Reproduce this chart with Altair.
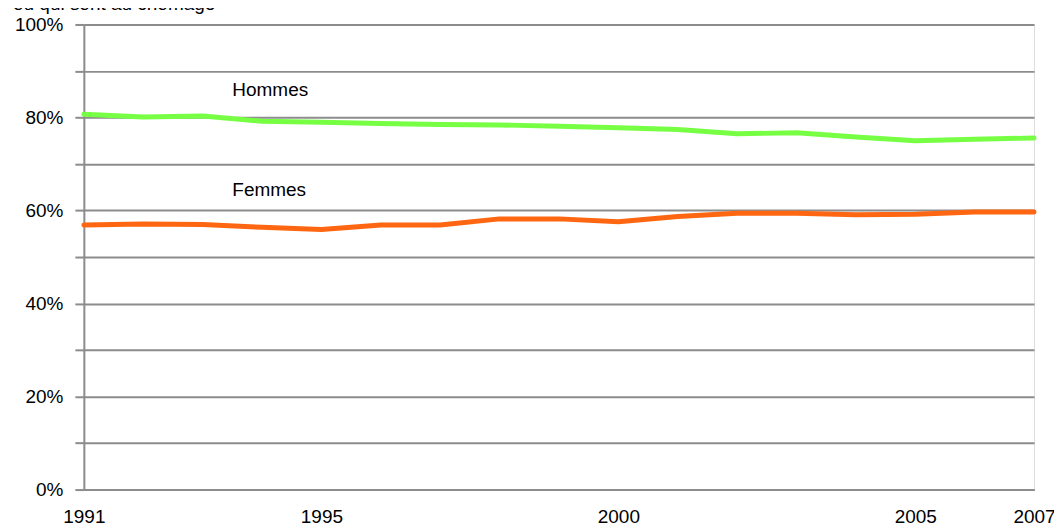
import altair as alt
import pandas as pd

years = list(range(1991, 2008))
hommes = [0.807, 0.801, 0.803, 0.792, 0.790, 0.787, 0.785, 0.784, 0.781,
          0.778, 0.774, 0.765, 0.767, 0.758, 0.750, 0.753, 0.756]
femmes = [0.569, 0.571, 0.570, 0.564, 0.559, 0.569, 0.569, 0.582, 0.582,
          0.576, 0.587, 0.594, 0.594, 0.591, 0.592, 0.597, 0.597]
x_labels = [1991, 1995, 2000, 2005, 2007]
series_names = ["Hommes", "Femmes"]
label_years = [1993.5, 1993.5]
label_values = [0.846, 0.631]
title_text = "ou qui sont au chômage"

FONT = "Liberation Sans"

rows = []
for y, h, f in zip(years, hommes, femmes):
    rows.append({"annee": y, "taux": h, "sexe": "Hommes"})
    rows.append({"annee": y, "taux": f, "sexe": "Femmes"})
df = pd.DataFrame(rows)

xscale = alt.Scale(domain=[1991, 2007], nice=False, zero=False)
yscale = alt.Scale(domain=[0, 1], nice=False)

lines = alt.Chart(df).mark_line(strokeWidth=5, strokeCap="round", strokeJoin="round").encode(
    x=alt.X("annee:Q", scale=xscale,
            axis=alt.Axis(values=x_labels, format="d", title=None, grid=False, ticks=False,
                          domain=True, domainColor="#8c8c8c", domainWidth=2,
                          labelFont=FONT, labelFontSize=19, labelColor="#000000",
                          labelPadding=18, labelFlush=False, labelOverlap=False)),
    y=alt.Y("taux:Q", scale=yscale,
            axis=alt.Axis(values=[i / 10 for i in range(11)], title=None,
                          labelExpr="round(datum.value*10) % 2 == 0 ? format(datum.value, '.0%') : ''",
                          grid=True, gridColor="#8c8c8c", gridWidth=2,
                          ticks=True, tickSize=9, tickColor="#8c8c8c", tickWidth=2,
                          domain=True, domainColor="#8c8c8c", domainWidth=2,
                          labelFont=FONT, labelFontSize=19, labelColor="#000000",
                          labelPadding=12)),
    color=alt.Color("sexe:N", scale=alt.Scale(domain=series_names, range=["#77FF44", "#FF6611"]),
                    legend=None),
    detail="sexe:N",
)

lab_df = pd.DataFrame({"annee": label_years, "taux": label_values, "txt": series_names})
labels = alt.Chart(lab_df).mark_text(align="left", baseline="alphabetic", font=FONT,
                                     fontSize=19, color="#000000").encode(
    x=alt.X("annee:Q", scale=xscale),
    y=alt.Y("taux:Q", scale=yscale),
    text="txt:N",
)

title_df = pd.DataFrame({"txt": [title_text]})
title = alt.Chart(title_df).mark_text(align="left", baseline="alphabetic", font=FONT,
                                      fontSize=19, color="#000000").encode(
    x=alt.value(-71),
    y=alt.value(-14),
    text="txt:N",
)

chart = alt.layer(lines, labels, title).properties(
    width=952, height=466,
    autosize=alt.AutoSizeParams(type="none"),
    padding={"left": 76, "top": 16, "right": 20, "bottom": 38},
).configure_view(stroke="#8c8c8c", strokeWidth=2).configure(background="white")

chart.save("out.html", embed_options={"renderer": "svg", "actions": False})
